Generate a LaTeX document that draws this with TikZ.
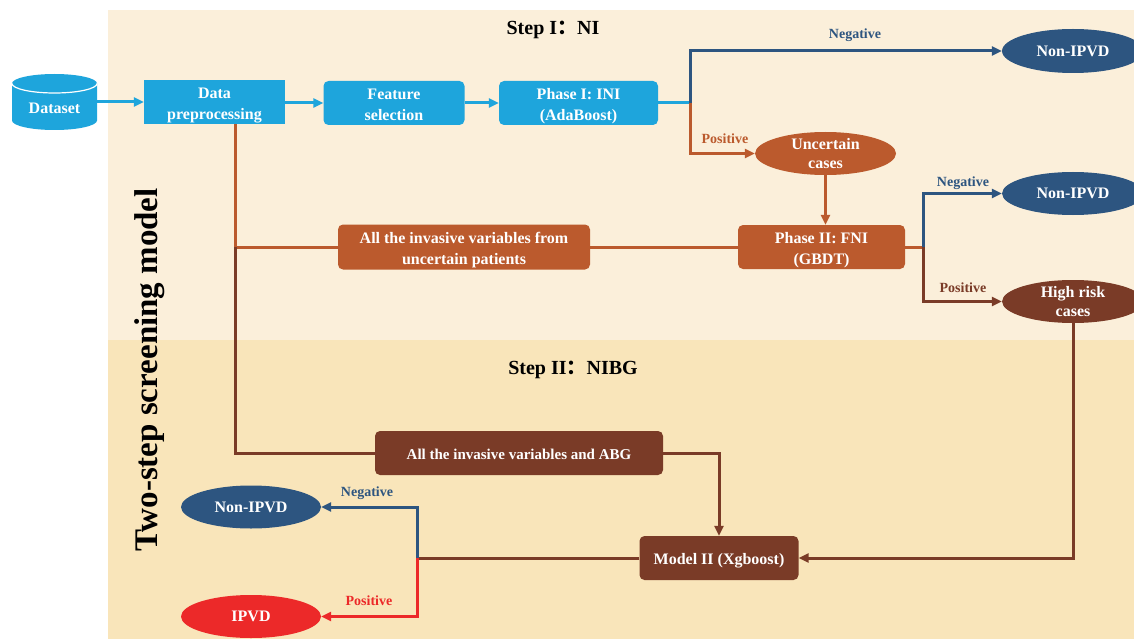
\documentclass[tikz,border=0pt]{standalone}
\usepackage{fontspec}
\setmainfont{Liberation Serif}
\newfontfamily\cjk{Noto Sans CJK SC}
\usetikzlibrary{shapes.geometric,arrows.meta}
\definecolor{skyb}{HTML}{1EA5DC}
\definecolor{navy}{HTML}{2D5580}
\definecolor{orng}{HTML}{BB5A2D}
\definecolor{brwn}{HTML}{7A3B27}
\definecolor{redc}{HTML}{EC2929}
\definecolor{bgtop}{HTML}{FBEFDA}
\definecolor{bgbot}{HTML}{F9E5BA}
\begin{document}
\begin{tikzpicture}[x=1pt,y=-1pt,
  box/.style={rounded corners=5pt, minimum height=44pt, inner sep=2pt, align=center, text=white,
              font=\bfseries\fontsize{16}{21}\selectfont},
  two/.style={text height=36pt, text depth=0.4pt},
  one/.style={text height=13pt, text depth=0.5pt},
  ell/.style={ellipse, minimum width=141pt, minimum height=43pt, inner sep=0pt, align=center, text=white,
              font=\bfseries\fontsize{16}{19}\selectfont},
  ln/.style={line width=3pt},
  arr/.style={line width=3pt, -{Triangle[length=10pt,width=9pt]}},
  lab/.style={font=\bfseries\fontsize{14}{16}\selectfont, inner sep=0pt},
  ttl/.style={font=\bfseries\fontsize{20}{24}\selectfont, inner sep=0pt}]
\useasboundingbox (0,0) rectangle (1134,639);
% backgrounds
\fill[bgtop] (108,10) rectangle (1134,340);
\fill[bgbot] (108,340) rectangle (1134,639);
% dataset cylinder
\fill[skyb] (12,83.5) -- (12,120.5) arc[start angle=180,end angle=0,x radius=42.5,y radius=9.5]
  -- (97,83.5) arc[start angle=0,end angle=-180,x radius=42.5,y radius=9.5] -- cycle;
\draw[white, line width=1.2pt] (12,83.5) arc[start angle=180,end angle=0,x radius=42.5,y radius=9.5];
\node[font=\bfseries\fontsize{16}{19}\selectfont, text=white, minimum width=85pt, inner sep=0pt] (ds) at (54.5,108) {Dataset};
% titles
\node[ttl] (t1) at (553,30) {Step I{\cjk ：}NI};
\node[ttl] (t2) at (573,370) {Step II{\cjk ：}NIBG};
\node[rotate=90, font=\bfseries\fontsize{33}{36}\selectfont, inner sep=0pt] (tt) at (150,370) {Two-step screening model};
% boxes
\node[box, two, fill=skyb, rounded corners=0pt, minimum width=141pt] (dp) at (214.5,102) {Data\\preprocessing};
\node[box, two, fill=skyb, minimum width=141pt] (fs) at (394,103) {Feature\\selection};
\node[box, two, fill=skyb, minimum width=159pt] (p1) at (578.5,103) {Phase I: INI\\(AdaBoost)};
\node[ell, fill=navy, minimum width=142pt, minimum height=44pt] (n1) at (1073,51) {Non-IPVD};
\node[ell, fill=orng] (uc) at (825.5,153.5) {Uncertain\\cases};
\node[box, two, fill=orng, minimum width=167pt] (p2) at (821.5,247) {Phase II: FNI\\(GBDT)};
\node[ell, fill=navy, minimum width=142pt] (n2) at (1073,193.5) {Non-IPVD};
\node[ell, fill=brwn, minimum width=142pt] (hr) at (1073,301.5) {High risk\\cases};
\node[box, two, fill=orng, minimum width=252pt, minimum height=45pt] (iv) at (464,247) {All the invasive variables from\\uncertain patients};
\node[box, one, fill=brwn, minimum width=288pt, font=\bfseries\fontsize{15}{18}\selectfont] (abg) at (519,453) {All the invasive variables and ABG};
\node[box, one, fill=brwn, minimum width=159pt] (m2) at (719,558) {Model II (Xgboost)};
\node[ell, fill=navy, minimum width=140pt] (n3) at (251,507) {Non-IPVD};
\node[ell, fill=redc, minimum width=140pt] (ipvd) at (251,616.5) {IPVD};
% coordinates
\coordinate (s1) at (690,103);
\coordinate (s2) at (923,247);
\coordinate (j1) at (235,247);
\coordinate (s3) at (417,558);
% connectors step I
\draw[arr, skyb] (ds.east |- dp.west) -- (dp.west);
\draw[arr, skyb] (dp.east |- fs.west) -- (fs.west);
\draw[arr, skyb] (fs.east) -- (p1.west);
\draw[ln, skyb] (p1.east) -- (s1);
\draw[arr, navy] (s1) |- (n1.west);
\draw[arr, orng] (s1) |- (uc.west);
\draw[arr, orng] (uc.south) -- (uc.south |- p2.north);
\draw[ln, orng] (p2.east) -- (s2);
\draw[arr, navy] (s2) |- (n2.west);
\draw[arr, brwn] (s2) |- (hr.west);
\draw[ln, orng] (dp.south -| j1) -- (j1) -- (iv.west);
\draw[ln, orng] (iv.east) -- (p2.west);
% connectors step II
\draw[ln, brwn] (j1) |- (abg.west);
\draw[arr, brwn] (abg.east) -| (m2.north);
\draw[arr, brwn] (hr.south) |- (m2.east);
\draw[ln, brwn] (m2.west) -- (s3);
\draw[arr, navy] (s3) |- (n3.east);
\draw[arr, redc] (s3) |- (ipvd.east);
% labels
\node[lab, text=navy] (l1) at (855,35) {Negative};
\node[lab, text=orng] (l2) at (725,139) {Positive};
\node[lab, text=navy] (l3) at (963,183) {Negative};
\node[lab, text=brwn] (l4) at (963,288) {Positive};
\node[lab, text=navy] (l5) at (367,493) {Negative};
\node[lab, text=redc] (l6) at (369,601) {Positive};
\end{tikzpicture}
\end{document}
